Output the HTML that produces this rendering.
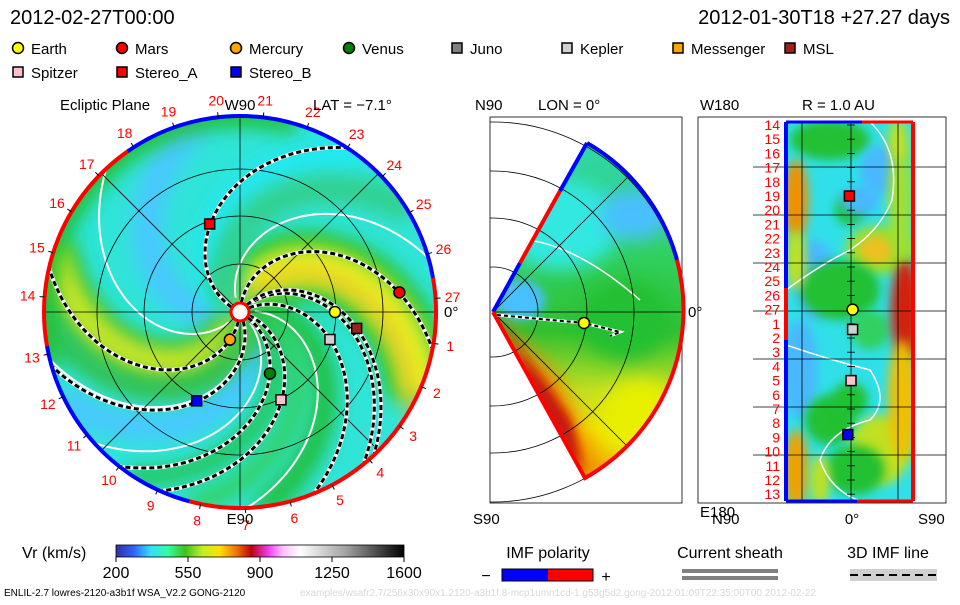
<!DOCTYPE html>
<html><head><meta charset="utf-8"><style>
body{margin:0;background:#fff;width:960px;height:600px;overflow:hidden}
svg text{font-family:"Liberation Sans",sans-serif}
</style></head><body>
<svg id="s" width="960" height="600" viewBox="0 0 960 600" xmlns="http://www.w3.org/2000/svg">
<defs>
<filter id="bl" x="-50%" y="-50%" width="200%" height="200%"><feGaussianBlur stdDeviation="9"/></filter>
<filter id="bl2" x="-50%" y="-50%" width="200%" height="200%"><feGaussianBlur stdDeviation="5"/></filter>
<clipPath id="eclip"><circle cx="240" cy="312" r="196"/></clipPath>
<clipPath id="wclip"><path d="M493,312 L587,143 A193,193 0 0 1 585,478 Z"/></clipPath>
<clipPath id="bclip"><rect x="490" y="117" width="192" height="386"/></clipPath>
<clipPath id="rclip"><rect x="786" y="122" width="128" height="379"/></clipPath>
<linearGradient id="cb" x1="0" x2="1">
<stop offset="0" stop-color="#3030a0"/><stop offset="0.06" stop-color="#3060ff"/><stop offset="0.12" stop-color="#30e0ff"/><stop offset="0.18" stop-color="#30ffa0"/><stop offset="0.24" stop-color="#40c020"/><stop offset="0.3" stop-color="#c0f020"/><stop offset="0.36" stop-color="#ffe000"/><stop offset="0.42" stop-color="#f07000"/><stop offset="0.47" stop-color="#c00010"/><stop offset="0.53" stop-color="#f040f0"/><stop offset="0.58" stop-color="#ffc0ff"/><stop offset="0.64" stop-color="#ffffff"/><stop offset="0.8" stop-color="#a0a0a0"/><stop offset="1" stop-color="#000"/></linearGradient>
<linearGradient id="wg" x1="0" y1="0" x2="0" y2="1">
<stop offset="0" stop-color="#30d8c0"/><stop offset="0.35" stop-color="#30d060"/><stop offset="0.55" stop-color="#30c030"/><stop offset="0.7" stop-color="#c0e020"/><stop offset="0.8" stop-color="#f0e000"/><stop offset="1" stop-color="#f08000"/></linearGradient>
</defs>
<g id="g"></g>
</svg>
<script>
// ---- data ----
const planetNames=["Earth","Mars","Mercury","Venus","Kepler","MSL","Spitzer","Stereo_A","Stereo_B"];
const planetR=[1.0,1.69,0.31,0.72,0.99,1.24,1.02,0.98,1.04];      // AU
const planetLon=[0,7,-110,-64,-17,-8,-65,109,-116];                // deg
const planetShape=["c","c","c","c","s","s","s","s","s"];
const planetColor=["#ffff00","#ff0000","#ffa500","#008000","#d0d0d0","#a02020","#ffc0cb","#ff0000","#0000ff"];
const rpNames=["Stereo_A","Earth","Kepler","Spitzer","Stereo_B"];
const rpLat=[-1,1,1,0,-2];        // deg
const rpDay=[19,27.0,1.4,5.0,8.8];
const spiralPhi=[155,87,47,51,30,-16,-30,-66,-95];
const whitePhi=[231,114,292,-40,10];
const cbTicks=[200,550,900,1250,1600];
const dayLabels=[1,2,3,4,5,6,7,8,9,10,11,12,13,14,15,16,17,18,19,20,21,22,23,24,25,26,27];
const rightDays=[14,15,16,17,18,19,20,21,22,23,24,25,26,27,1,2,3,4,5,6,7,8,9,10,11,12,13];

const NS="http://www.w3.org/2000/svg";
const G=document.getElementById('g');
function el(t,a,p){const e=document.createElementNS(NS,t);for(const k in a)e.setAttribute(k,a[k]);(p||G).appendChild(e);return e;}
function txt(x,y,s,size,fill,anchor,name,p){const t=el('text',{x:x,y:y,'font-size':size,fill:fill||'#000','text-anchor':anchor||'start'},p);t.textContent=s;

return t;}

// header
txt(10,24,"2012-02-27T00:00",20,"#000","start","date-title");
txt(950,24,"2012-01-30T18 +27.27 days",20,"#000","end","run-title");
const legX=[18,122,236,349,457,567,678,790,18,122,236];
const legY=[48,48,48,48,48,48,48,48,72,72,72];
const legN=["Earth","Mars","Mercury","Venus","Juno","Kepler","Messenger","MSL","Spitzer","Stereo_A","Stereo_B"];
const legC=["#ffff00","#ff0000","#ffa500","#008000","#808080","#d0d0d0","#ffa500","#a02020","#ffc0cb","#ff0000","#0000ff"];
const legS=["c","c","c","c","s","s","s","s","s","s","s"];
for(let i=0;i<legN.length;i++){
 const g=el('g',{});
 
 
 if(legS[i]=="c")el('circle',{cx:legX[i],cy:legY[i],r:5.5,fill:legC[i],stroke:'#000','stroke-width':1.5},g);
 else el('rect',{x:legX[i]-5,y:legY[i]-5,width:10,height:10,fill:legC[i],stroke:'#000','stroke-width':1.5},g);
 txt(legX[i]+13,legY[i]+6,legN[i],15,"#000","start","legend-label",g);
}

// ---- ecliptic panel ----
const cx=240,cy=312,R=196,AU=95,tw=0.5;
function ept(r,degMath){const a=degMath*Math.PI/180;return [cx+r*Math.cos(a),cy-r*Math.sin(a)];}
function spiral(phi0,r0,r1){let d="";for(let r=r0;r<=r1;r+=3){const p=ept(r,phi0-r*tw);d+=(d?"L":"M")+p[0].toFixed(1)+","+p[1].toFixed(1);}return d;}
const eg=el('g',{'clip-path':'url(#eclip)'});


el('circle',{cx:cx,cy:cy,r:R,fill:'#30e4d8'},eg);
const bands=[[200,'#48c8ff',30],[-55,'#48c8ff',28],[150,'#20e8f0',30],[250,'#20e8f0',22],
 [75,'#20c030',70],[75,'#a0e030',45],[75,'#f0f020',24],[68,'#f0c020',10],
 [-100,'#30c040',50],[-100,'#a8e030',30],[-100,'#d8e820',12],
 [15,'#20c040',25],[-5,'#30d060',20],[-25,'#20c040',16],[130,'#30d090',30],[280,'#30c050',22]];
for(const b of bands){el('path',{d:spiral(b[0],10,200),stroke:b[1],'stroke-width':b[2],fill:'none',filter:'url(#bl)'},eg);}
el('circle',{cx:cx,cy:cy,r:R,fill:'none',stroke:'#20c030','stroke-width':22,filter:'url(#bl)','stroke-dasharray':'0 560 420 600'},eg);
for(const p of whitePhi){el('path',{d:spiral(p,15,196),stroke:'#fff','stroke-width':2,fill:'none'},eg);}
for(const r of [48,96,143])el('circle',{cx:cx,cy:cy,r:r,fill:'none',stroke:'#000','stroke-width':0.8},eg);
for(const a of [0,45,90,135]){const p=ept(R,a),q=ept(R,a+180);el('line',{x1:p[0],y1:p[1],x2:q[0],y2:q[1],stroke:'#000','stroke-width':0.8},eg);}
for(const p of spiralPhi){const d=spiral(p,10,196);el('path',{d:d,stroke:'#fff','stroke-width':4,fill:'none'},eg);el('path',{d:d,stroke:'#000','stroke-width':3,fill:'none','stroke-dasharray':'5 3'},eg);}
function arcE(a0,a1,col){const p=ept(R,a0),q=ept(R,a1);el('path',{d:`M${p[0]},${p[1]} A${R},${R} 0 0 0 ${q[0]},${q[1]}`,stroke:col,'stroke-width':4,fill:'none'});}
arcE(-105,10,'#ff0000');arcE(10,125,'#0000ff');arcE(125,190,'#ff0000');arcE(190,255,'#0000ff');
el('circle',{cx:cx,cy:cy,r:9,fill:'#fff',stroke:'#ff0000','stroke-width':3});
for(let i=0;i<dayLabels.length;i++){const d=dayLabels[i];const k=d>=14?(d-27):(d);const a=4-k*13.2;
 const t0=ept(R,a),t1=ept(R+5,a);el('line',{x1:t0[0],y1:t0[1],x2:t1[0],y2:t1[1],stroke:'#000','stroke-width':1});
 const p=ept(213,a);txt(p[0],p[1]+5,String(d),14,"#ff0000","middle","day-label-"+d);}
txt(60,110,"Ecliptic Plane",15,"#000","start","ecliptic-title");
txt(240,110,"W90",15,"#000","middle","w90-label");
txt(240,524,"E90",15,"#000","middle","e90-label");
txt(313,110,"LAT = \u22127.1\u00b0",15,"#000","start","lat-label");
txt(444,317,"0\u00b0",15,"#000","start","ecliptic-0-label");
for(let i=0;i<planetNames.length;i++){const p=ept(planetR[i]*AU,planetLon[i]);let m;
 if(planetShape[i]=="c")m=el('circle',{cx:p[0],cy:p[1],r:5.5,fill:planetColor[i],stroke:'#000','stroke-width':1.5});
 else m=el('rect',{x:p[0]-5,y:p[1]-5,width:10,height:10,fill:planetColor[i],stroke:'#000','stroke-width':1.5});
 
 }

// ---- meridional panel ----
const mx=493,my=312;
el('rect',{x:490,y:117,width:192,height:386,fill:'none',stroke:'#000','stroke-width':0.8});
const wg=el('g',{'clip-path':'url(#wclip)'});


el('rect',{x:490,y:117,width:200,height:390,fill:'url(#wg)'},wg);
el('ellipse',{cx:560,cy:225,rx:60,ry:45,fill:'#30e8e0',filter:'url(#bl)'},wg);
el('ellipse',{cx:635,cy:215,rx:35,ry:25,fill:'#48c0ff',filter:'url(#bl)'},wg);
el('ellipse',{cx:520,cy:300,rx:25,ry:20,fill:'#48c0ff',filter:'url(#bl2)'},wg);
el('ellipse',{cx:625,cy:320,rx:45,ry:40,fill:'#20c030',filter:'url(#bl)'},wg);
el('ellipse',{cx:640,cy:420,rx:40,ry:40,fill:'#e8f000',filter:'url(#bl)'},wg);
el('path',{d:'M493,312 L585,478 L600,478 L560,380 Z',fill:'#f08000',filter:'url(#bl)'},wg);
el('path',{d:'M493,312 L585,478 L570,420 Z',fill:'#c81808',filter:'url(#bl2)'},wg);
el('ellipse',{cx:545,cy:415,rx:14,ry:60,fill:'#c81808',filter:'url(#bl2)',transform:'rotate(-30 545 415)'},wg);
el('path',{d:'M495,240 Q560,230 640,300',stroke:'#fff','stroke-width':1.5,fill:'none'},wg);
const gc=el('g',{'clip-path':'url(#bclip)'});
for(const r of [45,94,141])el('circle',{cx:mx,cy:my,r:r,fill:'none',stroke:'#000','stroke-width':0.8},gc);
el('circle',{cx:mx,cy:my,r:190,fill:'none',stroke:'#000','stroke-width':0.8},gc);
for(const a of [0,45,-45])el('line',{x1:mx,y1:my,x2:mx+190*Math.cos(a*Math.PI/180),y2:my-190*Math.sin(a*Math.PI/180),stroke:'#000','stroke-width':0.8});
el('path',{d:`M493,312 L520,263`,stroke:'#0000ff','stroke-width':4});
el('path',{d:`M520,263 L560,191`,stroke:'#ff0000','stroke-width':4});
el('path',{d:`M560,191 L587,143`,stroke:'#0000ff','stroke-width':4});
el('path',{d:`M587,143 A193,193 0 0 1 677,260`,stroke:'#0000ff','stroke-width':4,fill:'none'});
el('path',{d:`M677,260 A193,193 0 0 1 585,478 L493,312`,stroke:'#ff0000','stroke-width':4,fill:'none'});
const tr='M497,315 L584,323 L620,332 L610,336';
el('path',{d:tr,stroke:'#fff','stroke-width':3,fill:'none'});
el('path',{d:tr,stroke:'#000','stroke-width':2,fill:'none','stroke-dasharray':'4 3'});
const me=el('circle',{cx:584,cy:323,r:5.5,fill:'#ffff00',stroke:'#000','stroke-width':1.5});


txt(475,110,"N90",15,"#000","start","n90-label");
txt(538,110,"LON = 0\u00b0",15,"#000","start","lon-label");
txt(473,524,"S90",15,"#000","start","s90-label");
txt(688,317,"0\u00b0",15,"#000","start","meridional-0-label");

// ---- radial map panel ----
el('rect',{x:698,y:117,width:248,height:386,fill:'none',stroke:'#000','stroke-width':0.8});
const rg=el('g',{'clip-path':'url(#rclip)'});


el('rect',{x:786,y:122,width:128,height:379,fill:'#30e0e8'},rg);
const blobs=[[830,140,40,20,'#20c030'],[850,210,15,15,'#20c030'],[880,170,20,25,'#48b8ff'],[860,200,20,15,'#48b8ff'],[815,280,20,40,'#48b8ff'],[800,370,18,50,'#48b8ff'],
[880,250,35,25,'#90e030'],[876,250,18,14,'#f0c020'],[840,290,40,30,'#20c030'],[870,330,20,20,'#30d060'],[830,420,25,25,'#20c030'],[850,400,18,18,'#20c030'],[880,450,30,35,'#c0e020'],[855,470,30,25,'#20c030'],
[796,200,12,40,'#f09000'],[796,260,10,30,'#c0e020'],[796,470,12,40,'#f0a000'],[820,480,10,25,'#c0e020'],
[905,310,14,50,'#d02010'],[900,200,12,60,'#a0e030'],[902,400,14,60,'#f0c000'],[898,140,10,20,'#c0e020']];
for(const b of blobs)el('ellipse',{cx:b[0],cy:b[1],rx:b[2],ry:b[3],fill:b[4],filter:'url(#bl2)'},rg);
el('path',{d:'M870,122 Q900,150 892,200 Q880,230 850,250 Q820,265 786,290',stroke:'#fff','stroke-width':1.5,fill:'none'},rg);
el('path',{d:'M786,345 Q830,360 870,370 Q890,400 870,420 Q830,430 820,460 Q830,490 860,501',stroke:'#fff','stroke-width':1.5,fill:'none'},rg);
for(const y of [167,215,263,311,359,407,455])el('line',{x1:753,y1:y,x2:946,y2:y,stroke:'#000','stroke-width':0.8});
for(const x of [802,851,898])el('line',{x1:x,y1:122,x2:x,y2:501,stroke:'#000','stroke-width':0.8});
function rY(d){const k=d>=14?d-14:d+13;return 125+k*14.2;}
function rX(lat){return 851+lat*(48/30);}
for(const d of rightDays){el('line',{x1:847,y1:rY(d),x2:855,y2:rY(d),stroke:'#000','stroke-width':0.8});txt(780,rY(d)+5,String(d),14,"#ff0000","end","r-day-label-"+d);}
el('line',{x1:786,y1:122,x2:786,y2:288,stroke:'#0000ff','stroke-width':4});
el('line',{x1:786,y1:288,x2:786,y2:340,stroke:'#ff0000','stroke-width':4});
el('line',{x1:786,y1:340,x2:786,y2:501,stroke:'#0000ff','stroke-width':4});
el('line',{x1:913,y1:122,x2:913,y2:501,stroke:'#ff0000','stroke-width':4});
el('line',{x1:786,y1:122,x2:862,y2:122,stroke:'#0000ff','stroke-width':3});
el('line',{x1:862,y1:122,x2:913,y2:122,stroke:'#ff0000','stroke-width':3});
el('line',{x1:786,y1:501,x2:857,y2:501,stroke:'#0000ff','stroke-width':3});
el('line',{x1:857,y1:501,x2:913,y2:501,stroke:'#ff0000','stroke-width':3});
for(let i=0;i<rpNames.length;i++){const j=planetNames.indexOf(rpNames[i]);const x=rX(rpLat[i]),y=rY(rpDay[i]);let m;
 if(planetShape[j]=="c")m=el('circle',{cx:x,cy:y,r:5.5,fill:planetColor[j],stroke:'#000','stroke-width':1.5});
 else m=el('rect',{x:x-5,y:y-5,width:10,height:10,fill:planetColor[j],stroke:'#000','stroke-width':1.5});
 
 }
txt(700,110,"W180",15,"#000","start","w180-label");
txt(802,110,"R = 1.0 AU",15,"#000","start","r-label");
txt(700,517,"E180",15,"#000","start","e180-label");
txt(712,524,"N90",15,"#000","start","r-n90-label");
txt(852,524,"0\u00b0",15,"#000","middle","r-0-label");
txt(918,524,"S90",15,"#000","start","r-s90-label");

// ---- colorbar ----
txt(22,558,"Vr (km/s)",16,"#000","start","colorbar-title");
const cbr=el('rect',{x:116,y:545,width:288,height:12,fill:'url(#cb)',stroke:'#000','stroke-width':0.8});


function cbX(v){return 116+(v-200)/1400*288;}
for(const v of cbTicks){el('line',{x1:cbX(v),y1:557,x2:cbX(v),y2:562,stroke:'#000'});txt(cbX(v),578,String(v),16,"#000","middle","colorbar-tick-"+v);}
txt(548,558,"IMF polarity",16,"#000","middle","imf-polarity-title");
el('rect',{x:502,y:569,width:46,height:12,fill:'#0000ff'});el('rect',{x:548,y:569,width:45,height:12,fill:'#ff0000'});
el('rect',{x:502,y:569,width:91,height:12,fill:'none',stroke:'#000'});
txt(486,581,"\u2212",16,"#000","middle","minus-sign");txt(606,582,"+",16,"#000","middle","plus-sign");
txt(730,558,"Current sheath",16,"#000","middle","current-sheath-title");
el('rect',{x:682,y:569,width:96,height:4,fill:'#808080'});el('rect',{x:682,y:576,width:96,height:4,fill:'#808080'});
txt(888,558,"3D IMF line",16,"#000","middle","imf-line-title");
el('rect',{x:850,y:569,width:87,height:12,fill:'#d0d0d0'});
el('line',{x1:850,y1:575,x2:937,y2:575,stroke:'#000','stroke-width':2,'stroke-dasharray':'8 5'});
txt(4,596,"ENLIL-2.7 lowres-2120-a3b1f WSA_V2.2 GONG-2120",10,"#000","start","footer-run-info");
txt(300,596,"examples/wsafr2.7/256x30x90x1.2120-a3b1f.8-mcp1umn1cd-1.g53g5d2.gong-2012:01:09T22:35:00T00   2012-02-22",10,"#d8d8d8","start","footer-path");
</script>
</body></html>
